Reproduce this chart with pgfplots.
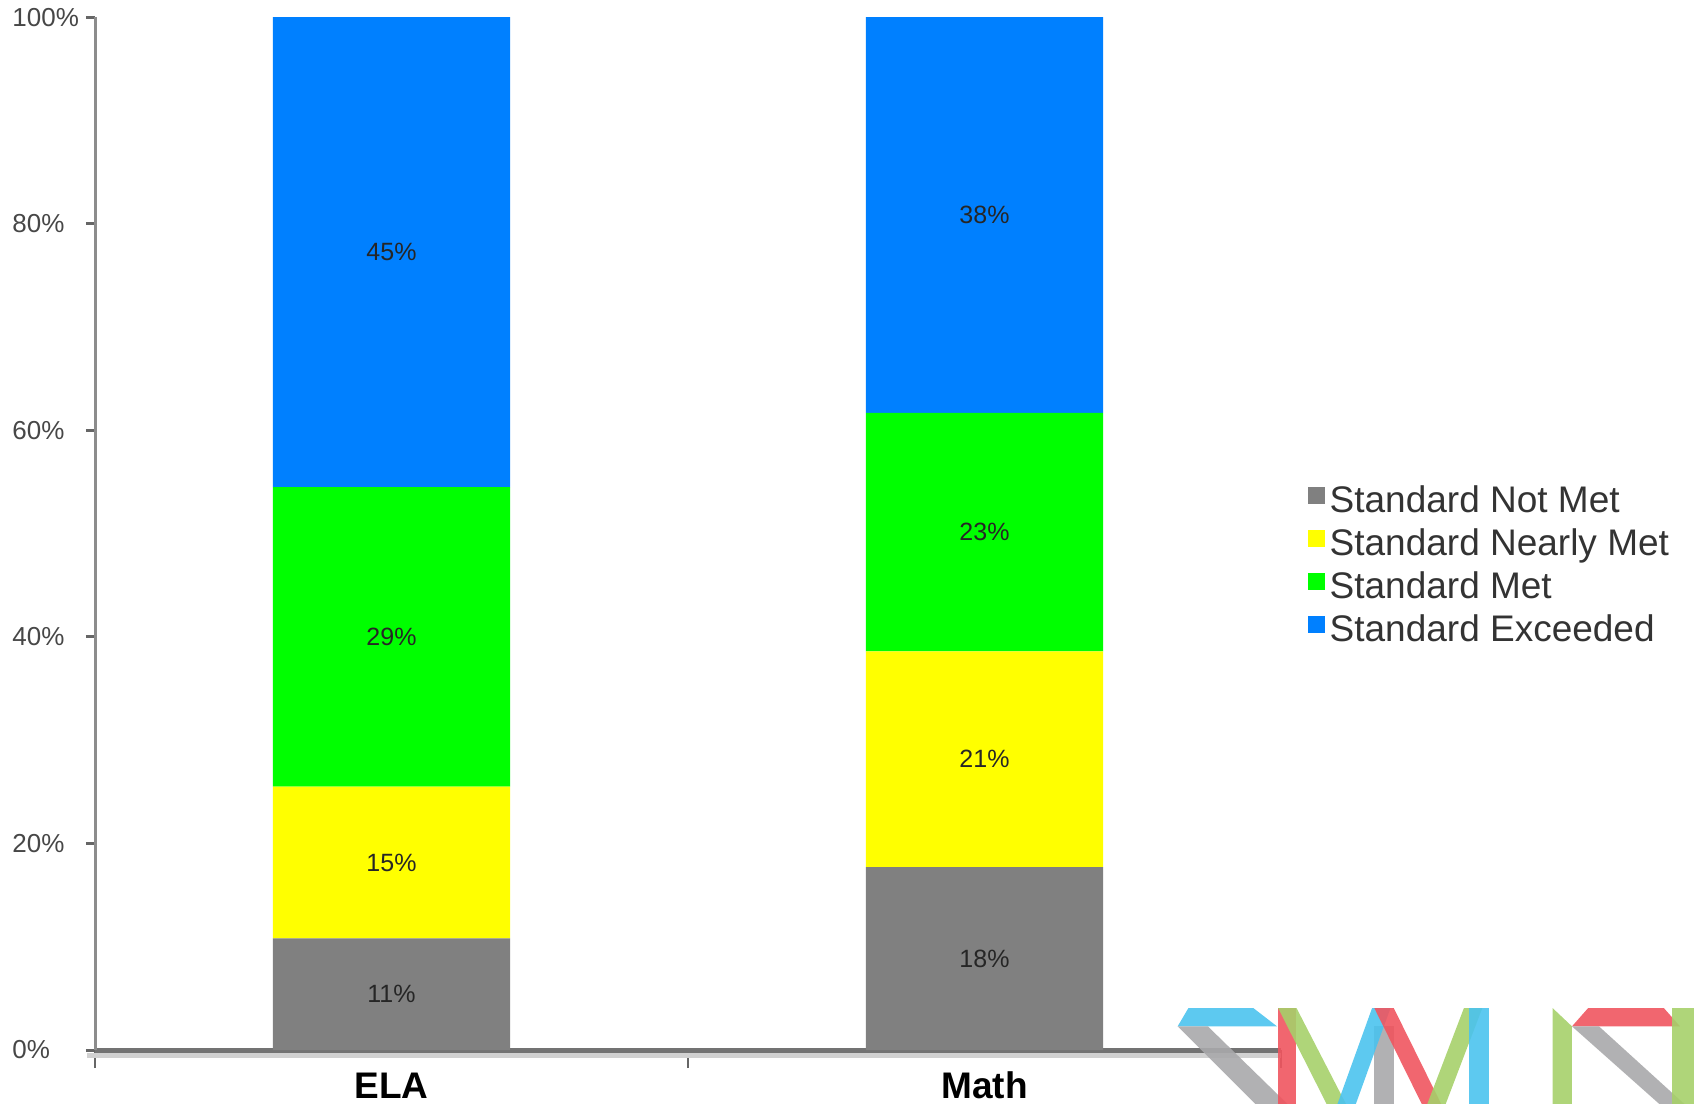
\documentclass[border=0pt]{standalone}
\usepackage{pgfplots}
\pgfplotsset{compat=1.18}
\usepackage{fontspec}
\setmainfont{Liberation Sans}

\definecolor{cgray}{HTML}{808080}
\definecolor{cyellow}{HTML}{FFFF00}
\definecolor{cgreen}{HTML}{00FF00}
\definecolor{cblue}{HTML}{0080FF}
\definecolor{axgray}{HTML}{8C8C8C}
\definecolor{lblue}{HTML}{4BC3EE}
\definecolor{lred}{HTML}{F0555F}
\definecolor{lgreen}{HTML}{A6D06A}
\definecolor{lgray}{HTML}{A9A9AB}

\tikzset{seglabel/.style={font=\fontsize{12.5bp}{14bp}\selectfont, text=black!85}}

\begin{document}
\begin{tikzpicture}
\begin{axis}[
    at={(0,0)}, anchor=south west,
    scale only axis,
    width=593bp, height=516.4bp,
    ybar stacked, bar width=0.4,
    xmin=-0.5, xmax=1.5, ymin=0, ymax=100,
    axis x line=bottom, axis y line=left,
    axis line style={-},
    x axis line style={line width=2.5bp, draw=black!55},
    y axis line style={line width=1.5bp, draw=axgray},
    tick align=outside,
    major tick length=4.5bp,
    ytick style={line width=1.5bp, draw=black!60},
    xtick style={line width=1bp, draw=black!60, /pgfplots/major tick length=9bp},
    xtick={-0.5,0.5,1.5}, xticklabels={},
    extra x ticks={0,1}, extra x tick labels={ELA,Math},
    extra x tick style={xtick style={draw=none},
        tick label style={font=\fontsize{18.5bp}{20bp}\selectfont\bfseries,
        anchor=north, text height=13.8bp, text depth=0pt, inner ysep=0pt, yshift=-5.5bp}},
    ytick={0,20,...,100},
    yticklabel={\pgfmathprintnumber{\tick}\%},
    yticklabel style={font=\fontsize{13bp}{14bp}\selectfont, text=black!72,
        anchor=west, inner xsep=0pt, xshift=-37bp},
    /pgf/number format/assume math mode=true,
    legend style={at={(1.022,0.550)}, anchor=north west, draw=none, fill=none,
        inner sep=0pt, font=\fontsize{18.5bp}{21bp}\selectfont, text=black!80,
        row sep=0.5bp,
        nodes={inner xsep=2.5bp, inner ysep=2bp, text height=13bp, text depth=4bp}},
    legend cell align=left,
    clip=false,
]
\addplot[fill=cgray, draw=none,
    legend image code/.code={\fill[cgray] (0bp,-0.5bp) rectangle (8.6bp,8.1bp);}]
    coordinates {(0,10.8) (1,17.7)};
\addlegendentry{Standard Not Met}
\addplot[fill=cyellow, draw=none,
    legend image code/.code={\fill[cyellow] (0bp,-0.5bp) rectangle (8.6bp,8.1bp);}]
    coordinates {(0,14.7) (1,20.9)};
\addlegendentry{Standard Nearly Met}
\addplot[fill=cgreen, draw=none,
    legend image code/.code={\fill[cgreen] (0bp,-0.5bp) rectangle (8.6bp,8.1bp);}]
    coordinates {(0,29.0) (1,23.1)};
\addlegendentry{Standard Met}
\addplot[fill=cblue, draw=none,
    legend image code/.code={\fill[cblue] (0bp,-0.5bp) rectangle (8.6bp,8.1bp);}]
    coordinates {(0,45.5) (1,38.3)};
\addlegendentry{Standard Exceeded}

% positions of the segment labels (middle of each segment)
\coordinate (e1) at (axis cs:0,5.4);
\coordinate (e2) at (axis cs:0,18.15);
\coordinate (e3) at (axis cs:0,40.0);
\coordinate (e4) at (axis cs:0,77.25);
\coordinate (m1) at (axis cs:1,8.85);
\coordinate (m2) at (axis cs:1,28.15);
\coordinate (m3) at (axis cs:1,50.2);
\coordinate (m4) at (axis cs:1,80.85);
\coordinate (xl) at (axis cs:-0.5,0);
\coordinate (xr) at (axis cs:1.5,0);
\end{axis}

% shadow under the x axis line
\draw[black!18, line width=2.5bp] ([xshift=-4bp,yshift=-2.5bp]xl) -- ([yshift=-2.5bp]xr);

\node[seglabel] at (e1) {11\%};
\node[seglabel] at (e2) {15\%};
\node[seglabel] at (e3) {29\%};
\node[seglabel] at (e4) {45\%};
\node[seglabel] at (m1) {18\%};
\node[seglabel] at (m2) {21\%};
\node[seglabel] at (m3) {23\%};
\node[seglabel] at (m4) {38\%};

% logo in the lower right corner (coordinates in reference pixels)
\begin{scope}[shift={(-47.5bp,525bp)}, x=0.5402bp, y=-0.5402bp, opacity=0.9]
\fill[lblue] (1100,933) -- (1160,933) -- (1182,950) -- (1090,950) -- cycle;
\fill[lgray] (1090,950) -- (1118,950) -- (1200,1030) -- (1170,1030) -- cycle;
\fill[lred] (1183,933) rectangle (1200,1030);
\fill[lgreen] (1183,933) -- (1200,933) -- (1250,1030) -- (1232,1030) -- cycle;
\fill[lgray] (1272,950) rectangle (1290,1030);
\fill[lblue] (1270,933) -- (1287,933) -- (1252,1030) -- (1235,1030) -- cycle;
\fill[lred] (1272,933) -- (1290,933) -- (1338,1030) -- (1320,1030) -- cycle;
\fill[lgreen] (1355,933) -- (1372,933) -- (1335,1030) -- (1318,1030) -- cycle;
\fill[lblue] (1360,933) rectangle (1378,1030);
\fill[lgreen] (1437,933) -- (1455,950) -- (1455,1030) -- (1437,1030) -- cycle;
\fill[lred] (1470,933) -- (1540,933) -- (1555,950) -- (1455,950) -- cycle;
\fill[lgray] (1455,950) -- (1480,950) -- (1568,1030) -- (1545,1030) -- cycle;
\fill[lgreen] (1548,933) rectangle (1568,1030);
\end{scope}

\pgfresetboundingbox
\path[use as bounding box] (-47.5bp,-27bp) rectangle (799.5bp,525bp);
\end{tikzpicture}
\end{document}
